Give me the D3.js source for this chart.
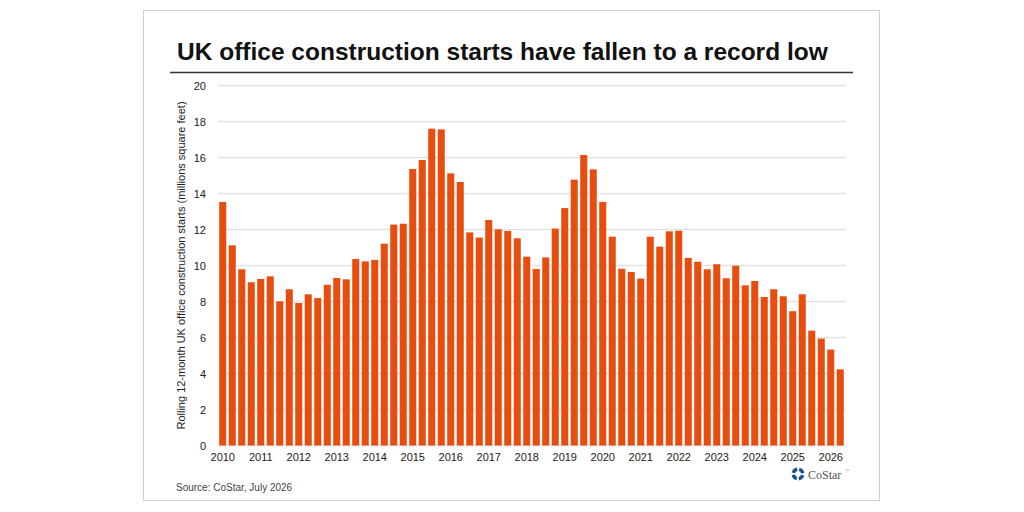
<!DOCTYPE html>
<html>
<head>
<meta charset="utf-8">
<script src="https://cdn.jsdelivr.net/npm/d3@7"></script>
<style>
  body { margin: 0; background: #fff; }
  text { font-family: "Liberation Sans", Arial, sans-serif; }
</style>
</head>
<body>
<script>
// quarterly, 2010 Q1 .. 2026 Q2
const years = d3.range(2010, 2027);
const quarters = [];
years.forEach(y => [1, 2, 3, 4].forEach(q => {
  if (y < 2026 || q <= 2) quarters.push(y + ' Q' + q);
}));

const starts = [
  13.53, 11.12, 9.79, 9.07, 9.25, 9.40, 8.01, 8.68, 7.92, 8.40,
  8.19, 8.93, 9.31, 9.23, 10.36, 10.23, 10.31, 11.21, 12.27, 12.32,
  15.36, 15.86, 17.60, 17.56, 15.12, 14.64, 11.84, 11.55, 12.53, 12.01,
  11.92, 11.51, 10.49, 9.81, 10.45, 12.05, 13.19, 14.77, 16.14, 15.34,
  13.53, 11.60, 9.82, 9.64, 9.27, 11.60, 11.05, 11.90, 11.93, 10.42,
  10.21, 9.79, 10.07, 9.29, 9.99, 8.90, 9.14, 8.25, 8.68, 8.29,
  7.46, 8.40, 6.38, 5.94, 5.33, 4.23
];

const yTicks = [0, 2, 4, 6, 8, 10, 12, 14, 16, 18, 20];

const width = 1024, height = 512;
const margin = { top: 85.5, bottom: 66.5, left: 218, right: 179 };

const svg = d3.select('body').append('svg')
  .attr('width', width).attr('height', height);

// frame
svg.append('rect')
  .attr('x', 143.5).attr('y', 10.5)
  .attr('width', 736).attr('height', 490)
  .attr('fill', '#fff').attr('stroke', '#cfcfcf');

// title + rule
svg.append('text')
  .attr('x', 177).attr('y', 60)
  .attr('font-size', 24.5).attr('font-weight', 'bold')
  .attr('fill', '#111')
  .text('UK office construction starts have fallen to a record low');

svg.append('line')
  .attr('x1', 170).attr('x2', 853)
  .attr('y1', 72.5).attr('y2', 72.5)
  .attr('stroke', '#333').attr('stroke-width', 1.5);

const xscale = d3.scaleBand()
  .domain(quarters)
  .range([margin.left, width - margin.right])
  .paddingInner(0.26)
  .paddingOuter(0.13);

const yscale = d3.scaleLinear()
  .domain([0, 20])
  .range([height - margin.bottom, margin.top]);

// gridlines
svg.append('g')
  .selectAll('line')
  .data(yTicks)
  .enter()
  .append('line')
  .attr('x1', margin.left).attr('x2', width - margin.right + 1)
  .attr('y1', d => yscale(d)).attr('y2', d => yscale(d))
  .attr('stroke', '#e3e3e3').attr('stroke-width', 1.3);

// y axis labels
const yaxis = svg.append('g')
  .attr('transform', `translate(${margin.left}, 0)`)
  .call(d3.axisLeft(yscale).tickValues(yTicks).tickSize(0).tickPadding(12));
yaxis.select('.domain').remove();
yaxis.selectAll('text')
  .attr('font-size', 11).attr('fill', '#222')
  .style('font-family', '"Liberation Sans", Arial, sans-serif');

// x axis labels at Q1 of each year
const xaxis = svg.append('g')
  .attr('transform', `translate(0, ${height - margin.bottom})`)
  .call(d3.axisBottom(xscale)
    .tickValues(quarters.filter(q => q.endsWith('Q1')))
    .tickFormat(q => q.slice(0, 4))
    .tickSize(0).tickPadding(8));
xaxis.select('.domain').remove();
xaxis.selectAll('text')
  .attr('font-size', 11).attr('fill', '#222')
  .style('font-family', '"Liberation Sans", Arial, sans-serif');

// bars
svg.append('g')
  .selectAll('rect')
  .data(starts)
  .enter()
  .append('rect')
  .attr('x', (d, i) => xscale(quarters[i]))
  .attr('y', d => yscale(d))
  .attr('width', xscale.bandwidth())
  .attr('height', d => yscale(0) - yscale(d))
  .attr('fill', '#e64d0e');

// y axis title
svg.append('text')
  .attr('transform', `translate(185, ${(yscale(0) + yscale(20)) / 2}) rotate(-90)`)
  .attr('text-anchor', 'middle')
  .attr('font-size', 11).attr('fill', '#222')
  .text('Rolling 12-month UK office construction starts (millions square feet)');

// source
svg.append('text')
  .attr('x', 176).attr('y', 491)
  .attr('font-size', 10).attr('fill', '#444')
  .text('Source: CoStar, July 2026');

// CoStar logo
const logo = svg.append('g').attr('transform', 'translate(798, 474)');
const arc = d3.arc().innerRadius(3).outerRadius(6.5);
d3.range(4).forEach(k => {
  const a0 = k * Math.PI / 2 + 0.25;
  logo.append('path')
    .attr('d', arc({ startAngle: a0, endAngle: a0 + 1.15 }))
    .attr('fill', '#1b5496');
});
svg.append('text')
  .attr('x', 808).attr('y', 478.5)
  .attr('font-size', 12).attr('fill', '#555')
  .style('font-family', '"Liberation Serif", "DejaVu Serif", serif')
  .text('CoStar');
svg.append('text')
  .attr('x', 845).attr('y', 472)
  .attr('font-size', 4).attr('fill', '#777')
  .text('™');
</script>
</body>
</html>
